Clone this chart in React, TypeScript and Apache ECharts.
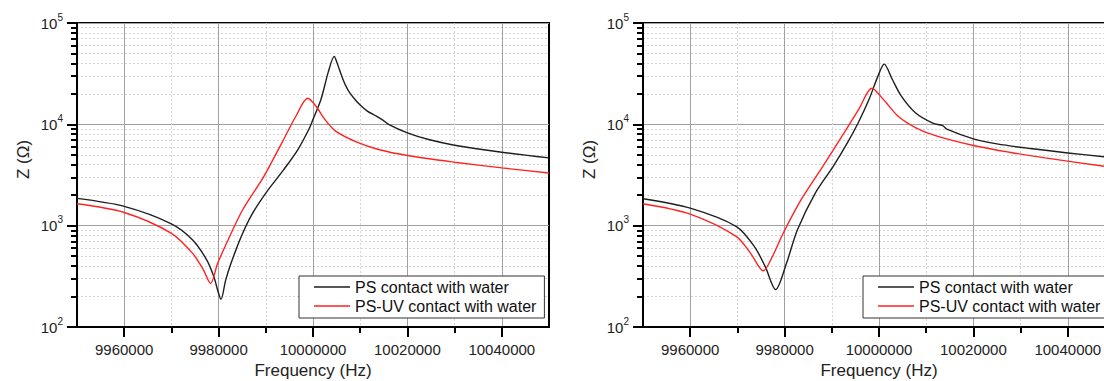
import React, { useEffect, useRef } from "react";
import * as echarts from "echarts";

const seriesNames = ["PS contact with water", "PS-UV contact with water"];
const xMajorTicks = [9960000, 9980000, 10000000, 10020000, 10040000];
const xMinorTicks = [9970000, 9990000, 10010000, 10030000];
const yMinorTicks = [
  200, 300, 400, 500, 600, 700, 800, 900,
  2000, 3000, 4000, 5000, 6000, 7000, 8000, 9000,
  20000, 30000, 40000, 50000, 60000, 70000, 80000, 90000,
];

// Left panel
const leftPsFreq = [9950000, 9960000, 9970000, 9974500, 9977500, 9979000, 9980000, 9980500, 9981500, 9982500, 9984800, 9987000, 9990000, 9993800, 9996800, 9999100, 10000000, 10001700, 10003200, 10004500, 10005000, 10005600, 10006300, 10007000, 10007800, 10008800, 10010000, 10011500, 10013500, 10014800, 10016000, 10020000, 10024500, 10030000, 10040000, 10050000];
const leftPsZ = [1858, 1549, 1042, 723, 458, 313, 214, 188, 290, 410, 780, 1279, 2099, 3573, 5640, 8890, 11200, 17660, 32400, 46800, 41700, 34700, 28200, 23700, 20400, 17800, 15500, 13500, 12000, 11020, 10000, 8240, 7080, 6220, 5305, 4664];
const leftUvFreq = [9950000, 9960000, 9970000, 9974500, 9976800, 9978300, 9979800, 9982000, 9985100, 9989600, 9993400, 9996400, 9998900, 10000600, 10002500, 10004800, 10009300, 10013900, 10020000, 10030000, 10040000, 10050000];
const leftUvZ = [1644, 1349, 841, 533, 365, 269, 425, 723, 1436, 3069, 6560, 12080, 18070, 15170, 11200, 8570, 6670, 5640, 4920, 4230, 3715, 3311];

// Right panel
const rightPsFreq = [9950000, 9960000, 9969800, 9973600, 9975900, 9978100, 9980400, 9982700, 9986500, 9990300, 9993300, 9995600, 9997900, 9999800, 10001100, 10002800, 10004700, 10007700, 10011500, 10013400, 10014500, 10020000, 10025000, 10032000, 10040000, 10047800];
const rightPsZ = [1845, 1490, 980, 621, 394, 234, 425, 908, 2099, 3855, 6560, 10370, 17660, 30060, 39300, 27860, 19070, 13020, 10210, 9750, 8910, 7190, 6410, 5770, 5220, 4775];
const rightUvFreq = [9950000, 9960000, 9969800, 9972800, 9975500, 9977400, 9979700, 9983500, 9988100, 9992600, 9995700, 9998500, 10000900, 10004000, 10007800, 10012300, 10020000, 10027600, 10035200, 10047800];
const rightUvZ = [1644, 1300, 780, 533, 359, 494, 841, 1803, 3855, 8240, 14060, 22700, 17660, 12080, 9250, 7640, 6180, 5305, 4664, 3855];

const FONT = "'Liberation Sans', Arial, sans-serif";
const pairs = (xs: number[], ys: number[]) => xs.map((x, i) => [x, ys[i]]);

const gridDefs = [
  { left: 77, top: 23, width: 472, height: 304 },
  { left: 643, top: 23, width: 472, height: 304 },
];

function buildOption() {
  const grid = gridDefs.map((g) => ({
    ...g,
    show: true,
    borderColor: "#000",
    borderWidth: 2,
    backgroundColor: "transparent",
    containLabel: false,
    outerBoundsMode: "none",
  }));

  const xAxis: any[] = [];
  const yAxis: any[] = [];
  gridDefs.forEach((_, gi) => {
    xAxis.push({
      type: "value",
      gridIndex: gi,
      position: "bottom",
      min: 9950000,
      max: 10050000,
      name: "Frequency (Hz)",
      nameLocation: "middle",
      nameGap: 34,
      nameTextStyle: { fontFamily: FONT, fontSize: 17, color: "#222" },
      axisLine: { show: true, onZero: false, lineStyle: { color: "#000", width: 2 } },
      axisTick: { show: true, customValues: xMajorTicks, length: 10, lineStyle: { color: "#000", width: 2 } },
      axisLabel: {
        customValues: xMajorTicks,
        margin: 15,
        fontFamily: FONT,
        fontSize: 15,
        color: "#222",
        formatter: (v: number) => String(v),
      },
      splitLine: { show: true, lineStyle: { color: "#a0a0a0", width: 1 } },
    });
    xAxis.push({
      type: "value",
      gridIndex: gi,
      position: "bottom",
      min: 9950000,
      max: 10050000,
      axisLine: { show: false },
      axisTick: { show: true, customValues: xMinorTicks, length: 6, lineStyle: { color: "#000", width: 2 } },
      axisLabel: { show: false },
      splitLine: { show: true, lineStyle: { color: "#d4d4d4", width: 1, type: [2, 2] } },
    });
    yAxis.push({
      type: "log",
      logBase: 10,
      gridIndex: gi,
      position: "left",
      min: 100,
      max: 100000,
      name: "Z (Ω)",
      nameLocation: "middle",
      nameGap: 45,
      nameRotate: 90,
      nameTextStyle: { fontFamily: FONT, fontSize: 17, color: "#222", padding: [0, 0, 0, 31] },
      axisLine: { show: true, onZero: false, lineStyle: { color: "#000", width: 2 } },
      axisTick: { show: true, length: 10, lineStyle: { color: "#000", width: 2 } },
      axisLabel: {
        margin: 14,
        formatter: (v: number) => `{b|10}{s|${Math.round(Math.log10(v))}}`,
        rich: {
          b: { fontFamily: FONT, fontSize: 15, color: "#222" },
          s: { fontFamily: FONT, fontSize: 10, color: "#222", padding: [0, 0, 12, 0] },
        },
      },
      splitLine: { show: true, lineStyle: { color: "#a0a0a0", width: 1 } },
    });
    yAxis.push({
      type: "value",
      gridIndex: gi,
      position: "left",
      min: 2,
      max: 5,
      axisLine: { show: false },
      axisTick: {
        show: true,
        customValues: yMinorTicks.map((v) => Math.log10(v)),
        length: 6,
        lineStyle: { color: "#000", width: 2 },
      },
      axisLabel: { show: false },
      splitLine: { show: true, lineStyle: { color: "#d4d4d4", width: 1, type: [2, 2] } },
    });
  });

  const lineSeries = (name: string, gi: number, data: number[][], color: string) => ({
    name,
    type: "line",
    xAxisIndex: gi * 2,
    yAxisIndex: gi * 2,
    data,
    showSymbol: false,
    symbol: "none",
    smooth: 0.3,
    lineStyle: { color, width: 1.4 },
    itemStyle: { color },
    z: 5,
  });

  const series = [
    lineSeries(seriesNames[0], 0, pairs(leftPsFreq, leftPsZ), "#1e1e1e"),
    lineSeries(seriesNames[1], 0, pairs(leftUvFreq, leftUvZ), "#ff2222"),
    lineSeries(seriesNames[0], 1, pairs(rightPsFreq, rightPsZ), "#1e1e1e"),
    lineSeries(seriesNames[1], 1, pairs(rightUvFreq, rightUvZ), "#ff2222"),
  ];

  const legendAt = (left: number) => ({
    left,
    top: 276,
    orient: "vertical",
    data: seriesNames,
    icon: "rect",
    itemWidth: 36,
    itemHeight: 1.5,
    itemGap: 1,
    padding: [2, 8, 3, 15],
    backgroundColor: "#fff",
    borderColor: "#333",
    borderWidth: 1,
    borderRadius: 0,
    selectedMode: false,
    textStyle: { fontFamily: FONT, fontSize: 16, color: "#111", lineHeight: 18 },
    z: 10,
  });

  return {
    animation: false,
    backgroundColor: "#fff",
    grid,
    xAxis,
    yAxis,
    legend: [legendAt(299), legendAt(863)],
    series,
  };
}

export default function App() {
  const ref = useRef<HTMLDivElement>(null);
  useEffect(() => {
    if (!ref.current) return;
    const chart = echarts.init(ref.current, undefined, { renderer: "svg" });
    chart.setOption(buildOption() as any);
    return () => chart.dispose();
  }, []);
  return (
    <div
      ref={ref}
      style={{ position: "fixed", left: 0, top: 0, width: 1104, height: 381, background: "#fff" }}
    />
  );
}
